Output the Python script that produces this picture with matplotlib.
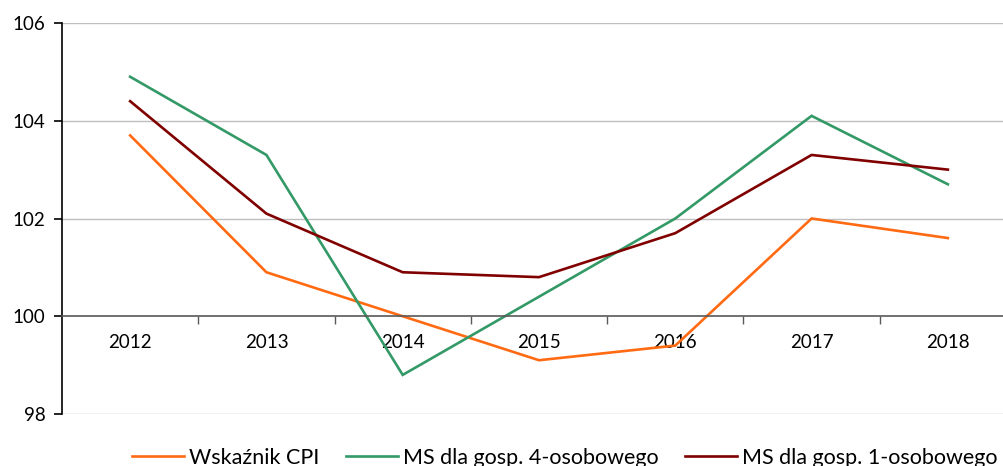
import matplotlib
matplotlib.use("Agg")
import matplotlib.pyplot as plt
import numpy as np

plt.rcParams['font.family'] = ['Lato', 'DejaVu Sans']

years = ["2012", "2013", "2014", "2015", "2016", "2017", "2018"]
cpi = [103.7, 100.9, 100.0, 99.1, 99.4, 102.0, 101.6]
ms4 = [104.9, 103.3, 98.8, 100.4, 102.0, 104.1, 102.7]
ms1 = [104.4, 102.1, 100.9, 100.8, 101.7, 103.3, 103.0]

names = ["Wskaźnik CPI", "MS dla gosp. 4-osobowego", "MS dla gosp. 1-osobowego"]
colors = ["#FF6A13", "#339966", "#800000"]

fig = plt.figure(figsize=(10.04, 4.66), dpi=100)
# axes extend slightly past the right edge, like the clipped original
ax = fig.add_axes([62/1004, 1-414/466, 954/1004, 391/466])

x = np.arange(len(years))
for vals, name, c in zip([cpi, ms4, ms1], names, colors):
    ax.plot(x, vals, color=c, lw=1.9, label=name, solid_joinstyle='miter')

ax.set_ylim(98, 106)
ax.set_yticks([98, 100, 102, 104, 106])
ax.set_xlim(-0.5, len(years) - 0.5)

for yv in [98, 102, 104, 106]:
    ax.axhline(yv, color="#BFBFBF", lw=1, zorder=0)

ax.spines['top'].set_visible(False)
ax.spines['right'].set_visible(False)
ax.spines['bottom'].set_position(('data', 100))
ax.spines['bottom'].set_color("#595959")
ax.spines['bottom'].set_linewidth(1.2)
ax.spines['left'].set_color("black")
ax.spines['left'].set_linewidth(1.2)

ax.set_xticks(x)
ax.set_xticklabels(years)
ax.set_xticks(np.arange(0.5, len(years)), minor=True)
ax.tick_params(axis='x', which='major', length=0, pad=13, labelsize=13.5)
ax.tick_params(axis='x', which='minor', length=6, direction='out', color="#595959", width=1)
ax.tick_params(axis='y', length=6, direction='out', width=1.2, labelsize=13.5, pad=6)

fig.legend(loc='center left', bbox_to_anchor=(132/1004, 8/466), ncol=3, frameon=False,
           fontsize=15.5, handlelength=2.4, handletextpad=0.23, columnspacing=1.25,
           borderaxespad=0, borderpad=0)

fig.savefig("out.png", dpi=100)
